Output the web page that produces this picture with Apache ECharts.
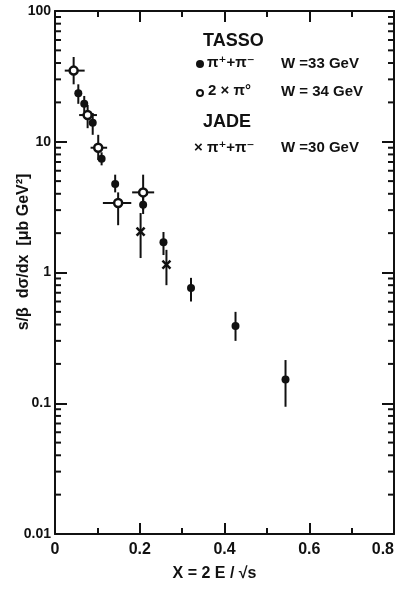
<!DOCTYPE html>
<html>
<head>
<meta charset="utf-8">
<script src="https://cdn.jsdelivr.net/npm/echarts@6/dist/echarts.min.js"></script>
<style>
  html, body { margin: 0; padding: 0; background: #fff; }
  #chart { width: 402px; height: 590px; }
</style>
</head>
<body>
<div id="chart"></div>
<script>
// TASSO pi+ + pi-  (W = 33 GeV): x, value, lower and upper error
const tassoChargedX  = [0.055, 0.069, 0.089, 0.110, 0.142, 0.208, 0.256, 0.321, 0.426, 0.544];
const tassoChargedY  = [23.5, 19.5, 14.0, 7.4, 4.75, 3.3, 1.7, 0.76, 0.39, 0.152];
const tassoChargedLo = [19.5, 16.9, 11.3, 6.6, 4.1, 2.8, 1.36, 0.60, 0.30, 0.094];
const tassoChargedHi = [27.5, 22.4, 16.6, 8.3, 5.6, 3.9, 2.04, 0.91, 0.50, 0.214];

// TASSO 2 x pi0  (W = 34 GeV): x with bin range, value with error
const tassoNeutralX   = [0.044, 0.077, 0.102, 0.149, 0.208];
const tassoNeutralXLo = [0.023, 0.057, 0.084, 0.113, 0.182];
const tassoNeutralXHi = [0.070, 0.099, 0.123, 0.180, 0.234];
const tassoNeutralY   = [35, 16, 9.0, 3.4, 4.1];
const tassoNeutralLo  = [27.5, 12.7, 7.25, 2.3, 3.0];
const tassoNeutralHi  = [44.5, 19.1, 11.3, 4.1, 5.6];

// JADE pi+ + pi-  (W = 30 GeV)
const jadeX  = [0.202, 0.263];
const jadeY  = [2.05, 1.15];
const jadeLo = [1.29, 0.80];
const jadeHi = [2.85, 1.49];

// Axis ranges and labels
const xTickLabels = ['0', '0.2', '0.4', '0.6', '0.8'];
const yTickLabels = ['0.01', '0.1', '1', '10', '100'];
const yMinorTicks = [];
[0.01, 0.1, 1, 10].forEach(d => { for (let k = 2; k <= 9; k++) yMinorTicks.push(+(d * k).toPrecision(3)); });
const yTitle = 's/β  dσ/dx  [μb GeV²]';

const FONT = '"Liberation Sans", "DejaVu Sans", sans-serif';
const INK = '#111';

function errorBarRenderer(withX) {
  return function (params, api) {
    const x = api.value(0), y = api.value(1);
    const top = api.coord([x, api.value(3)]);
    const bot = api.coord([x, api.value(2)]);
    const children = [{
      type: 'line',
      shape: { x1: top[0], y1: top[1], x2: bot[0], y2: bot[1] },
      style: { stroke: INK, lineWidth: 2 }
    }];
    if (withX) {
      const l = api.coord([api.value(4), y]);
      const r = api.coord([api.value(5), y]);
      children.push({
        type: 'line',
        shape: { x1: l[0], y1: l[1], x2: r[0], y2: r[1] },
        style: { stroke: INK, lineWidth: 2 }
      });
    }
    return { type: 'group', children };
  };
}

function crossRenderer(params, api) {
  const c = api.coord([api.value(0), api.value(1)]);
  const s = 4;
  return {
    type: 'group',
    children: [
      { type: 'line', shape: { x1: c[0] - s, y1: c[1] - s, x2: c[0] + s, y2: c[1] + s }, style: { stroke: INK, lineWidth: 2.5 } },
      { type: 'line', shape: { x1: c[0] - s, y1: c[1] + s, x2: c[0] + s, y2: c[1] - s }, style: { stroke: INK, lineWidth: 2.5 } }
    ]
  };
}

// short log-spaced ticks on the left and right frame edges
function minorTickRenderer(params, api) {
  const y = api.coord([0, api.value(1)])[1];
  const cs = params.coordSys;
  const len = 6;
  return {
    type: 'group',
    children: [
      { type: 'line', shape: { x1: cs.x, y1: y, x2: cs.x + len, y2: y }, style: { stroke: INK, lineWidth: 2 } },
      { type: 'line', shape: { x1: cs.x + cs.width, y1: y, x2: cs.x + cs.width - len, y2: y }, style: { stroke: INK, lineWidth: 2 } }
    ]
  };
}

const chargedData = tassoChargedX.map((x, i) => [x, tassoChargedY[i], tassoChargedLo[i], tassoChargedHi[i]]);
const neutralData = tassoNeutralX.map((x, i) => [x, tassoNeutralY[i], tassoNeutralLo[i], tassoNeutralHi[i], tassoNeutralXLo[i], tassoNeutralXHi[i]]);
const jadeData = jadeX.map((x, i) => [x, jadeY[i], jadeLo[i], jadeHi[i]]);

const xAxisCommon = {
  type: 'value', min: 0, max: 0.8, interval: 0.2,
  axisLine: { show: true, onZero: false, lineStyle: { color: INK, width: 2 } },
  axisTick: { show: true, inside: true, length: 11, lineStyle: { color: INK, width: 2 } },
  minorTick: { show: true, splitNumber: 2, length: 6, lineStyle: { color: INK, width: 2 } },
  splitLine: { show: false }
};
const yAxisCommon = {
  type: 'log', logBase: 10, min: 0.01, max: 100,
  axisLine: { show: true, onZero: false, lineStyle: { color: INK, width: 2 } },
  axisTick: { show: true, inside: true, length: 12, lineStyle: { color: INK, width: 2 } },
  splitLine: { show: false }
};

const chart = echarts.init(document.getElementById('chart'));
chart.setOption({
  animation: false,
  backgroundColor: '#fff',
  grid: { left: 55, right: 8, top: 11, bottom: 56, containLabel: false, outerBoundsMode: 'none' },
  xAxis: [
    Object.assign({}, xAxisCommon, {
      position: 'bottom',
      name: 'X = 2 E / √s',
      nameLocation: 'middle',
      nameGap: 32,
      nameTextStyle: { fontFamily: FONT, fontWeight: 'bold', fontSize: 16, color: INK, padding: [0, 20, 0, 0] },
      axisLabel: {
        fontFamily: FONT, fontWeight: 'bold', fontSize: 16, color: INK, margin: 8,
        formatter: v => xTickLabels[Math.round(v / 0.2)],
        alignMaxLabel: 'right'
      }
    }),
    Object.assign({}, xAxisCommon, { position: 'top', axisLabel: { show: false } })
  ],
  yAxis: [
    Object.assign({}, yAxisCommon, {
      position: 'left',
      axisLabel: {
        fontFamily: FONT, fontWeight: 'bold', fontSize: 14, color: INK, margin: 4,
        formatter: v => yTickLabels[Math.round(Math.log10(v)) + 2]
      }
    }),
    Object.assign({}, yAxisCommon, { position: 'right', axisLabel: { show: false } })
  ],
  series: [
    {
      type: 'custom', name: 'minor ticks', xAxisIndex: 0, yAxisIndex: 0,
      renderItem: minorTickRenderer, data: yMinorTicks.map(v => [0, v]), silent: true, z: 1
    },
    {
      type: 'custom', name: 'π+ + π- errors', renderItem: errorBarRenderer(false),
      data: chargedData, z: 2, silent: true
    },
    {
      type: 'custom', name: '2 x π0 errors', renderItem: errorBarRenderer(true),
      data: neutralData, z: 2, silent: true
    },
    {
      type: 'custom', name: 'JADE errors', renderItem: errorBarRenderer(false),
      data: jadeData, z: 2, silent: true
    },
    {
      type: 'scatter', name: 'TASSO π+ + π-', symbol: 'circle', symbolSize: 8,
      itemStyle: { color: INK, opacity: 1 }, data: chargedData.map(d => [d[0], d[1]]), z: 3
    },
    {
      type: 'scatter', name: 'TASSO 2 x π0', symbol: 'circle', symbolSize: 8,
      itemStyle: { color: '#fff', borderColor: INK, borderWidth: 2.5, opacity: 1 },
      data: neutralData.map(d => [d[0], d[1]]), z: 4
    },
    {
      type: 'custom', name: 'JADE π+ + π-', renderItem: crossRenderer,
      data: jadeData.map(d => [d[0], d[1]]), z: 4
    }
  ],
  graphic: [
    // vertical axis title
    { type: 'text', x: 24, y: 252, rotation: Math.PI / 2,
      style: { text: yTitle, font: 'bold 16px ' + FONT, fill: INK, align: 'center', verticalAlign: 'middle' } },
    // key
    { type: 'text', left: 203, top: 32, style: { text: 'TASSO', font: 'bold 18px ' + FONT, fill: INK } },
    { type: 'circle', shape: { cx: 200, cy: 64, r: 4 }, style: { fill: INK } },
    { type: 'text', left: 207, top: 55, style: { text: 'π⁺+π⁻', font: 'bold 15px ' + FONT, fill: INK } },
    { type: 'text', left: 281, top: 56, style: { text: 'W =33 GeV', font: 'bold 15px ' + FONT, fill: INK } },
    { type: 'circle', shape: { cx: 200, cy: 93, r: 3 }, style: { fill: '#fff', stroke: INK, lineWidth: 2 } },
    { type: 'text', left: 208, top: 83, style: { text: '2 × π°', font: 'bold 15px ' + FONT, fill: INK } },
    { type: 'text', left: 281, top: 84, style: { text: 'W = 34 GeV', font: 'bold 15px ' + FONT, fill: INK } },
    { type: 'text', left: 203, top: 113, style: { text: 'JADE', font: 'bold 18px ' + FONT, fill: INK } },
    { type: 'text', left: 194, top: 140, style: { text: '× π⁺+π⁻', font: 'bold 15px ' + FONT, fill: INK } },
    { type: 'text', left: 281, top: 140, style: { text: 'W =30 GeV', font: 'bold 15px ' + FONT, fill: INK } }
  ]
});
</script>
</body>
</html>
